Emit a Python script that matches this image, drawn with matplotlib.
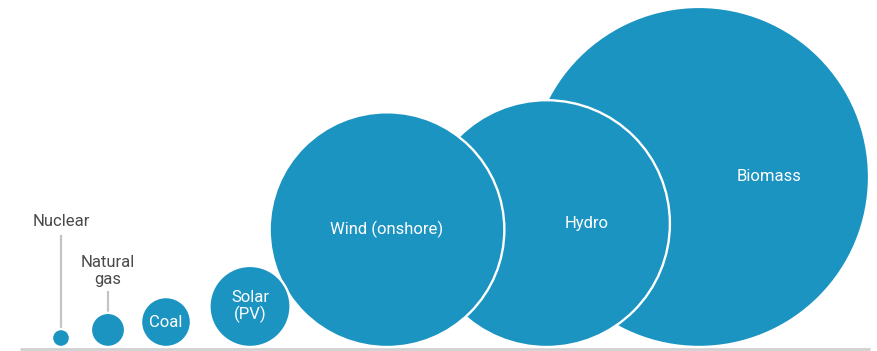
import numpy as np
import matplotlib
matplotlib.use("Agg")
import matplotlib.pyplot as plt
from matplotlib.patches import Circle

# ---- data ----
categories = ["Nuclear", "Natural\ngas", "Coal", "Solar\n(PV)", "Wind (onshore)", "Hydro", "Biomass"]
values = [1.0, 3.6, 7.7, 20.3, 170.0, 188.0, 357.0]   # relative area of each circle
inside_label = [False, False, True, True, True, True, True]

# ---- layout ----
x_centers = [61, 108, 166, 250, 387, 546.5, 699]
base_y = 347.0
unit_r = 9.0
blue = "#1b94c1"
text_dark = "#4a4a4a"

plt.rcParams['font.family'] = ['Roboto', 'DejaVu Sans']

fig = plt.figure(figsize=(8.77, 3.51), dpi=100)
ax = fig.add_axes([0, 0, 1, 1])
ax.set_xlim(0, 877)
ax.set_ylim(351, 0)
ax.axis("off")

radii = [unit_r * np.sqrt(v) for v in values]
cys = [base_y - r for r in radii]

# baseline
ax.plot([20, 870], [base_y + 1.6, base_y + 1.6], color="#d0d0d0", lw=2.0, zorder=0,
        solid_capstyle="butt")

n = len(values)
for i in range(n):
    circ = Circle((x_centers[i], cys[i]), radii[i], facecolor=blue, edgecolor="white",
                  lw=1.7, zorder=10 + (n - i))
    ax.add_patch(circ)

fs = 12
for i in range(n):
    cx, cy, r = x_centers[i], cys[i], radii[i]
    if inside_label[i]:
        lx = cx
        if i > 0:
            pcx, pcy, pr = x_centers[i - 1], cys[i - 1], radii[i - 1]
            dy = cy - pcy
            if abs(dy) < pr:
                xr = pcx + np.sqrt(pr ** 2 - dy ** 2)
                if xr > cx - r:
                    lx = (pcx + pr + cx + r) / 2
        ax.text(lx, cy, categories[i], color="white", fontsize=fs, ha="center",
                va="center", zorder=40, linespacing=1.1)
    else:
        # label above with leader line
        top = cy - r
        if i == 0:
            ty = 222
            line_top = 236
        else:
            ty = 271
            line_top = 292
        ax.plot([cx, cx], [line_top, top], color="#c4c4c4", lw=1.6, zorder=5)
        ax.text(cx, ty, categories[i], color=text_dark, fontsize=fs, ha="center",
                va="center", zorder=40, linespacing=1.1)

fig.savefig("out.png", dpi=100)
